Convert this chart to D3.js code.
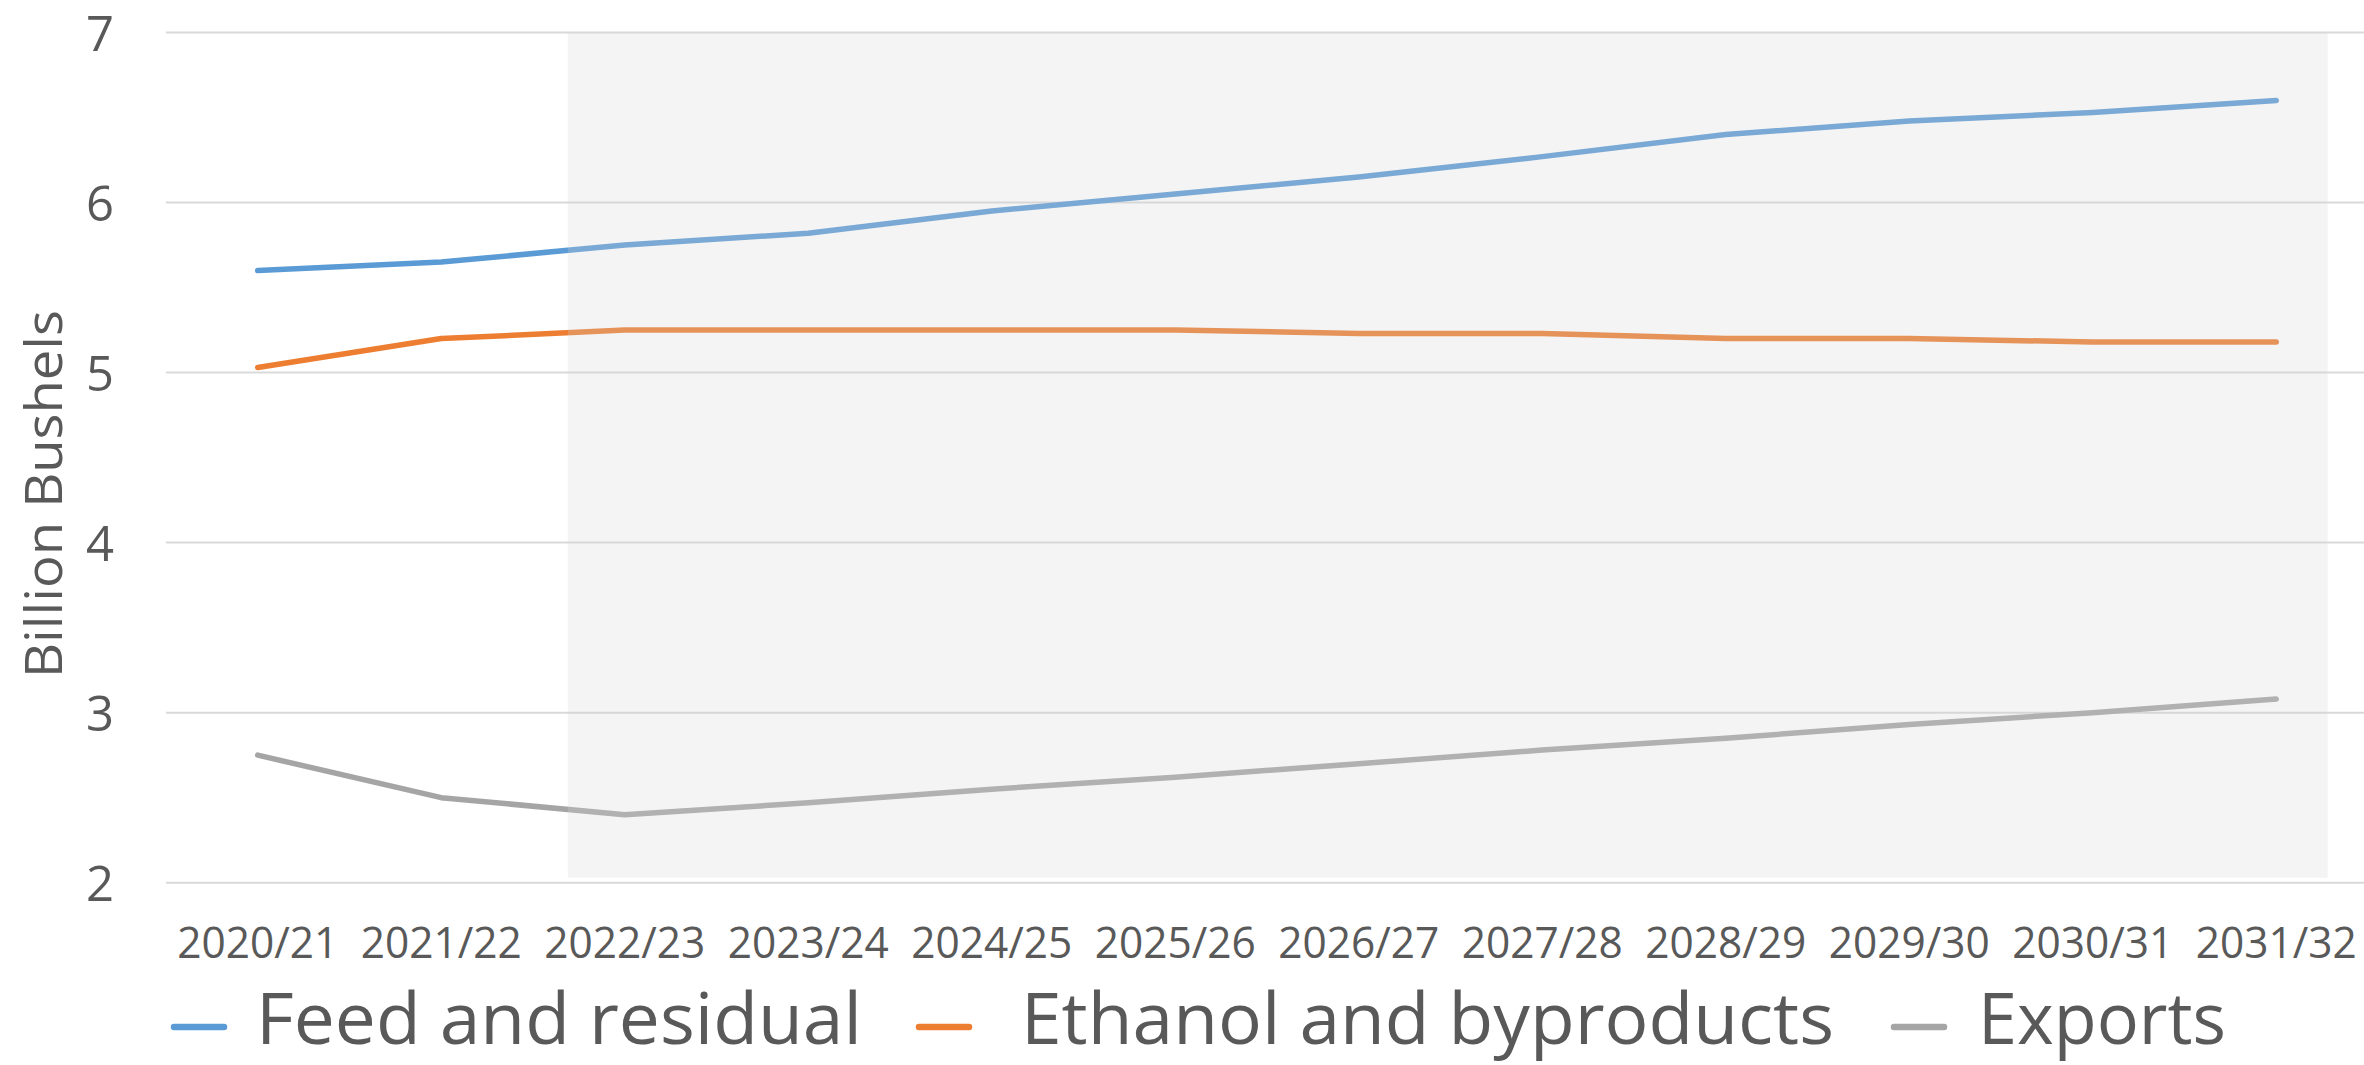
<!DOCTYPE html>
<html>
<head>
<meta charset="utf-8">
<script src="https://cdn.jsdelivr.net/npm/d3@7"></script>
<style>
  html, body { margin: 0; padding: 0; background: #fff; overflow: hidden; }
  svg { display: block; font-family: "Open Sans", "Noto Sans", sans-serif; }
</style>
</head>
<body>
<svg id="chart" width="2364" height="1065"></svg>
<script>
// Marketing years on the x axis
const years = ["2020/21", "2021/22", "2022/23", "2023/24", "2024/25", "2025/26",
               "2026/27", "2027/28", "2028/29", "2029/30", "2030/31", "2031/32"];

// Corn use, billion bushels
const feedResidual = [5.60, 5.65, 5.75, 5.82, 5.95, 6.05, 6.15, 6.27, 6.40, 6.48, 6.53, 6.60];
const ethanolByproducts = [5.03, 5.20, 5.25, 5.25, 5.25, 5.25, 5.23, 5.23, 5.20, 5.20, 5.18, 5.18];
const exportsSeries = [2.75, 2.50, 2.40, 2.47, 2.55, 2.62, 2.70, 2.78, 2.85, 2.93, 3.00, 3.08];

const seriesNames = ["Feed and residual", "Ethanol and byproducts", "Exports"];
const seriesColors = ["#5b9bd5", "#ed7d31", "#a5a5a5"];
const yTicks = [2, 3, 4, 5, 6, 7];
const yTitle = "Billion Bushels";

// Projection period shading, in category-band units
const shadeStart = 2.19, shadeEnd = 11.78;

// Legend layout: swatch left edges, label left edges and label widths
const legendSwatchX = [171, 916, 1891];
const legendTextX = [256, 1021, 1978];
const legendTextWidths = [606, 813, 248];

const series = seriesNames.map((name, i) => ({
  name,
  color: seriesColors[i],
  values: [feedResidual, ethanolByproducts, exportsSeries][i]
}));

const svg = d3.select("#chart");
const textColor = "#595959";

const x = d3.scaleBand().domain(years).range([166, 2368]).paddingInner(0).paddingOuter(0);
const y = d3.scaleLinear().domain([2, 7]).range([882.7, 32.5]);
const cx = d => x(d) + x.bandwidth() / 2;

// Gridlines
svg.append("g")
  .selectAll("line")
  .data(yTicks)
  .join("line")
  .attr("x1", x.range()[0])
  .attr("x2", x.range()[1])
  .attr("y1", d => y(d))
  .attr("y2", d => y(d))
  .attr("stroke", "#d9d9d9")
  .attr("stroke-width", 2);

// Series lines
const line = d3.line()
  .x((d, i) => cx(years[i]))
  .y(d => y(d));

svg.append("g")
  .selectAll("path")
  .data(series)
  .join("path")
  .attr("d", d => line(d.values))
  .attr("fill", "none")
  .attr("stroke", d => d.color)
  .attr("stroke-width", 5.5)
  .attr("stroke-linecap", "round")
  .attr("stroke-linejoin", "round");

// Translucent shading over the projection years
svg.append("rect")
  .attr("x", x.range()[0] + shadeStart * x.bandwidth())
  .attr("width", (shadeEnd - shadeStart) * x.bandwidth())
  .attr("y", y(7))
  .attr("height", y(2) - y(7) - 5)
  .attr("fill", "rgb(212,212,212)")
  .attr("fill-opacity", 0.256);

// Y axis
const yAxis = svg.append("g")
  .attr("transform", "translate(114,0)")
  .call(d3.axisLeft(y).tickValues(yTicks).tickSize(0).tickPadding(0).tickFormat(d3.format("d")));
yAxis.select(".domain").remove();
yAxis.selectAll("text")
  .attr("x", 0)
  .attr("dy", "0.36em")
  .attr("fill", textColor)
  .style("font-family", "'Open Sans', sans-serif")
  .style("font-size", "49px");

// X axis
const xAxis = svg.append("g")
  .attr("transform", `translate(0,${y(2)})`)
  .call(d3.axisBottom(x).tickSize(0));
xAxis.select(".domain").remove();
xAxis.selectAll("text")
  .attr("y", 958 - y(2))
  .attr("dy", 0)
  .attr("fill", textColor)
  .style("font-family", "'Open Sans', sans-serif")
  .style("font-size", "43px")
  .attr("textLength", 161)
  .attr("lengthAdjust", "spacingAndGlyphs");

// Y axis title
svg.append("text")
  .attr("transform", "translate(62,494) rotate(-90)")
  .attr("text-anchor", "middle")
  .attr("fill", textColor)
  .style("font-size", "52px")
  .attr("textLength", 368)
  .attr("lengthAdjust", "spacingAndGlyphs")
  .text(yTitle);

// Legend
const legend = svg.append("g");
const ly = 1027;
series.forEach((s, i) => {
  legend.append("line")
    .attr("x1", legendSwatchX[i] + 3).attr("x2", legendSwatchX[i] + 53)
    .attr("y1", ly).attr("y2", ly)
    .attr("stroke", s.color)
    .attr("stroke-width", 6.5)
    .attr("stroke-linecap", "round");
  legend.append("text")
    .attr("x", legendTextX[i])
    .attr("y", 1044)
    .attr("fill", textColor)
    .style("font-size", "71px")
    .attr("textLength", legendTextWidths[i])
    .attr("lengthAdjust", "spacingAndGlyphs")
    .text(s.name);
});
</script>
</body>
</html>
